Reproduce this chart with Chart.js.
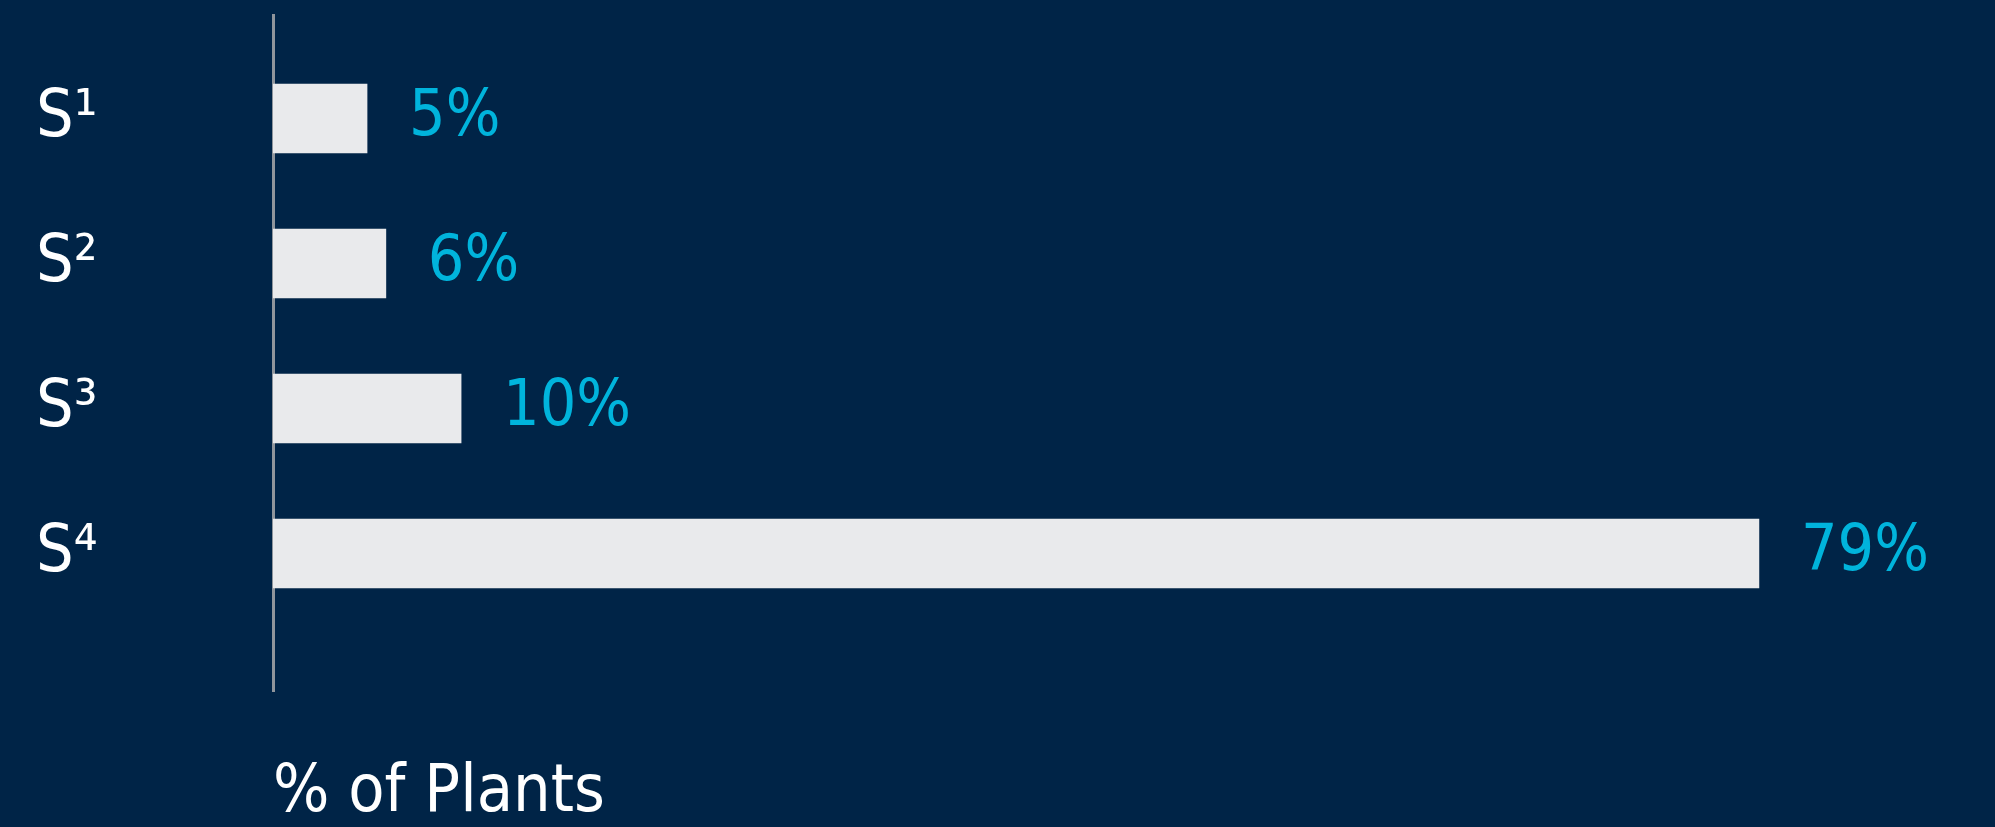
<!DOCTYPE html>
<html>
<head>
<meta charset="utf-8">
<script src="https://cdn.jsdelivr.net/npm/chart.js@4"></script>
<style>
  html, body { margin: 0; padding: 0; background: #002447; }
  #wrap { width: 1995px; height: 827px; position: relative; }
</style>
</head>
<body>
<div id="wrap"><canvas id="plantsChart"></canvas></div>
<script>
const categories = ['S\u00B9', 'S\u00B2', 'S\u00B3', 'S\u2074'];
const plantShare = [5, 6, 10, 79];
const axisTitle = '% of Plants';

const fontFamily = '"DejaVu Sans Condensed", "DejaVu Sans", sans-serif';

// bars sit on a numeric index axis (1..4) so the axis line can run past the bars
const barPoints = plantShare.map((v, i) => ({ x: v, y: i + 1 }));

const valueLabels = {
  id: 'valueLabels',
  afterDatasetsDraw(chart) {
    const ctx = chart.ctx;
    const meta = chart.getDatasetMeta(0);
    ctx.save();
    ctx.font = '64px ' + fontFamily;
    ctx.fillStyle = '#00b4dc';
    ctx.textAlign = 'left';
    ctx.textBaseline = 'middle';
    meta.data.forEach((bar, i) => {
      ctx.fillText(plantShare[i] + '%', bar.x + 42, bar.y);
    });
    ctx.restore();
  }
};

const plantsData = {
  datasets: [{
    label: '% of Plants',
    data: barPoints,
    backgroundColor: '#e9eaec',
    borderWidth: 0,
    barThickness: 69
  }]
};

const plantsConfig = {
  type: 'bar',
  data: plantsData,
  options: {
    indexAxis: 'y',
    responsive: true,
    maintainAspectRatio: false,
    animation: false,
    layout: {
      padding: { left: 36, right: 48, top: 15, bottom: 0 }
    },
    plugins: {
      legend: { display: false },
      tooltip: { enabled: false }
    },
    scales: {
      x: {
        type: 'linear',
        min: 0,
        max: 89,
        grid: { display: false },
        border: { display: false },
        ticks: { display: false },
        title: {
          display: true,
          text: axisTitle,
          align: 'start',
          color: '#ffffff',
          font: { family: fontFamily, size: 66, lineHeight: 1 },
          padding: { top: 62, bottom: 0 }
        }
      },
      y: {
        type: 'linear',
        reverse: true,
        offset: false,
        min: 0.286,
        max: 4.948,
        grid: { display: false, offset: false },
        border: { display: true, color: '#8f959c', width: 3 },
        afterBuildTicks(scale) {
          scale.ticks = categories.map((c, i) => ({ value: i + 1 }));
        },
        afterFit(scale) {
          scale.width = 237;
          scale.paddingTop = 0;
          scale.paddingBottom = 0;
        },
        ticks: {
          color: '#ffffff',
          crossAlign: 'far',
          font: { family: fontFamily, size: 66 },
          callback: (value) => categories[value - 1]
        }
      }
    }
  },
  plugins: [valueLabels]
};

const plantsChart = new Chart(document.getElementById('plantsChart'), plantsConfig);
</script>
</body>
</html>
